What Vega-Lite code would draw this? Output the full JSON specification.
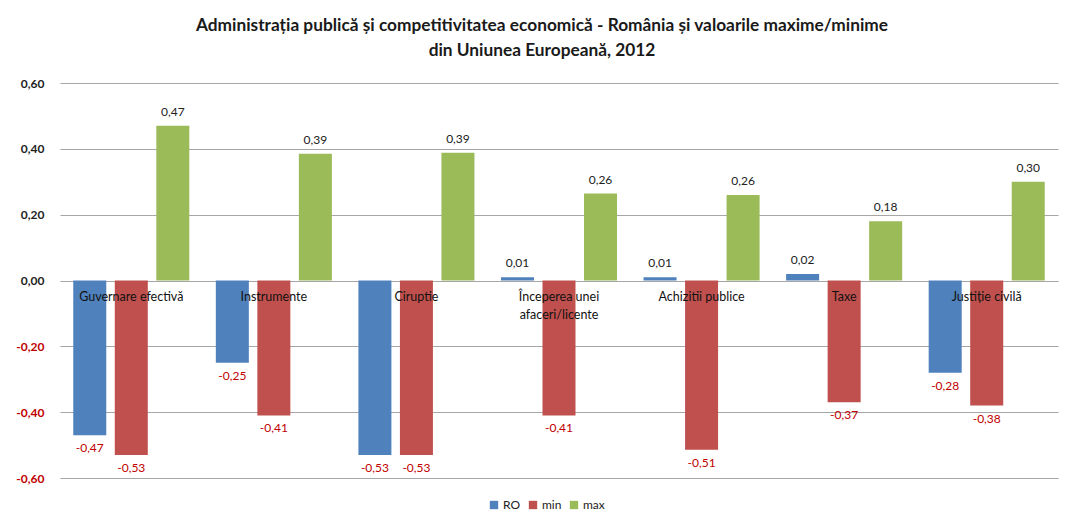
{
  "$schema": "https://vega.github.io/schema/vega-lite/v6.json",
  "autosize": "none",
  "width": 998,
  "height": 395,
  "padding": {"left": 60, "top": 83, "right": 8, "bottom": 44},
  "background": "white",
  "config": {
    "locale": {"number": {"decimal": ",", "thousands": ".", "grouping": [3], "currency": ["", " €"], "minus": "-"}},
    "font": "Lato",
    "view": {"stroke": null}
  },
  "title": {
    "text": ["Administrația publică și competitivitatea economică  - România și valoarile maxime/minime", "din Uniunea Europeană, 2012"],
    "fontSize": 17.3,
    "fontWeight": "bold",
    "color": "#1a1a1a",
    "lineHeight": 25,
    "offset": 18,
    "dx": -17
  },
  "data": {
    "values": [
      {"category": "Guvernare efectivă", "series": "RO", "value": -0.47},
      {"category": "Guvernare efectivă", "series": "min", "value": -0.53},
      {"category": "Guvernare efectivă", "series": "max", "value": 0.47},
      {"category": "Instrumente", "series": "RO", "value": -0.25},
      {"category": "Instrumente", "series": "min", "value": -0.41},
      {"category": "Instrumente", "series": "max", "value": 0.385},
      {"category": "Ciruptie", "series": "RO", "value": -0.53},
      {"category": "Ciruptie", "series": "min", "value": -0.53},
      {"category": "Ciruptie", "series": "max", "value": 0.388},
      {"category": "Începerea unei\nafaceri/licente", "series": "RO", "value": 0.01},
      {"category": "Începerea unei\nafaceri/licente", "series": "min", "value": -0.41},
      {"category": "Începerea unei\nafaceri/licente", "series": "max", "value": 0.264},
      {"category": "Achizitii publice", "series": "RO", "value": 0.01},
      {"category": "Achizitii publice", "series": "min", "value": -0.514},
      {"category": "Achizitii publice", "series": "max", "value": 0.26},
      {"category": "Taxe", "series": "RO", "value": 0.02},
      {"category": "Taxe", "series": "min", "value": -0.37},
      {"category": "Taxe", "series": "max", "value": 0.18},
      {"category": "Justiție civilă", "series": "RO", "value": -0.28},
      {"category": "Justiție civilă", "series": "min", "value": -0.38},
      {"category": "Justiție civilă", "series": "max", "value": 0.30}
    ]
  },
  "encoding": {
    "x": {
      "field": "category",
      "type": "nominal",
      "sort": null,
      "axis": null,
      "scale": {"paddingInner": 0.186, "paddingOuter": 0.093}
    },
    "y": {
      "field": "value",
      "type": "quantitative",
      "scale": {"domain": [-0.6, 0.6], "nice": false, "zero": false},
      "axis": {
        "title": null,
        "values": [-0.6, -0.4, -0.2, 0, 0.2, 0.4, 0.6],
        "format": ".2f",
        "ticks": false,
        "domain": false,
        "labelPadding": 16,
        "labelFontSize": 12,
        "labelFontWeight": "bold",
        "labelColor": {"condition": {"test": "datum.value < 0", "value": "#c00000"}, "value": "#222222"},
        "gridColor": "#a6a6a6",
        "gridWidth": 1
      }
    }
  },
  "layer": [
    {
      "mark": {"type": "bar"},
      "encoding": {
        "xOffset": {"field": "series", "type": "nominal", "sort": ["RO", "min", "max"], "scale": {"paddingInner": 0.205, "paddingOuter": 0}},
        "color": {
          "field": "series",
          "type": "nominal",
          "sort": ["RO", "min", "max"],
          "scale": {"domain": ["RO", "min", "max"], "range": ["#4f81bd", "#c0504d", "#9bbb59"]},
          "legend": {
            "title": null,
            "orient": "none",
            "legendX": 428,
            "legendY": 416,
            "direction": "horizontal",
            "symbolType": "square",
            "symbolSize": 70,
            "symbolStrokeWidth": 0,
            "labelFontSize": 12,
            "labelOffset": 3,
            "labelColor": "#222222",
            "columnPadding": 6
          }
        }
      }
    },
    {
      "transform": [{"filter": "datum.value >= 0"}],
      "mark": {"type": "text", "baseline": "bottom", "dy": -7, "fontSize": 12, "color": "#222222"},
      "encoding": {
        "xOffset": {"field": "series", "type": "nominal", "sort": ["RO", "min", "max"]},
        "text": {"field": "value", "type": "quantitative", "format": ".2f"}
      }
    },
    {
      "transform": [{"filter": "datum.value < 0"}],
      "mark": {"type": "text", "baseline": "top", "dy": 8, "fontSize": 12, "color": "#c00000"},
      "encoding": {
        "xOffset": {"field": "series", "type": "nominal", "sort": ["RO", "min", "max"]},
        "text": {"field": "value", "type": "quantitative", "format": ".2f"}
      }
    },
    {
      "transform": [{"filter": "datum.series === 'RO'"}],
      "mark": {"type": "text", "baseline": "top", "dy": 10, "fontSize": 12.5, "lineBreak": "\n", "lineHeight": 18, "color": "#111111"},
      "encoding": {
        "y": {"datum": 0},
        "text": {"field": "category", "type": "nominal"},
        "fontWeight": {
          "condition": {"test": "datum.category === 'Instrumente' || datum.category === 'Ciruptie' || datum.category === 'Taxe'", "value": "bold"},
          "value": "normal"
        }
      }
    }
  ]
}
